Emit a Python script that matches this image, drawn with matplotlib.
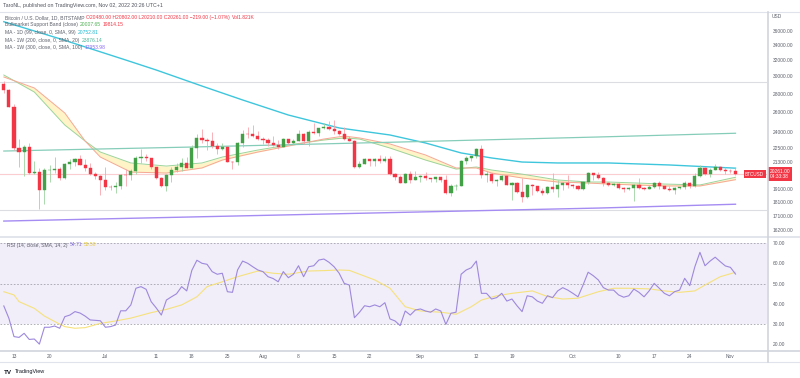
import numpy as np
import pandas as pd
import matplotlib
matplotlib.use('Agg')
import matplotlib.pyplot as plt
from matplotlib.lines import Line2D
from matplotlib.ticker import FixedLocator, FixedFormatter, NullLocator

plt.rcParams['font.family'] = ['Liberation Sans', 'DejaVu Sans']

W, H = 800, 378

GREEN = '#43a047'
RED = '#f23645'
GREEN_WICK = '#9fd3a1'
RED_WICK = '#f7a5ae'
AXIS_TXT = '#5d606b'
LINE_GRAY = '#e0e3eb'

# daily BTCUSD (Bitstamp) candles, 11 Jun - 02 Nov 2022
dates = pd.date_range('2022-06-11', '2022-11-02', freq='D')
first_open = 29080
close = [28400, 26580, 22480, 22130, 22580, 20390, 20460, 18980, 20560, 20560,
         20720, 19970, 21090, 21230, 21500, 21030, 20730, 20270, 20100, 19780,
         19270, 19240, 19300, 20220, 20180, 20550, 21640, 21720, 21590, 20850,
         19960, 19320, 20210, 20580, 20830, 21200, 20780, 22460, 23380, 23230,
         23160, 22690, 22450, 22580, 21310, 21250, 22950, 23850, 23790, 23640,
         23300, 23270, 22970, 22820, 22620, 23310, 22960, 23170, 23800, 23140,
         23950, 23930, 24400, 24440, 24300, 24090, 23850, 23340, 23190, 20830,
         21130, 21520, 21400, 21530, 21370, 21560, 20240, 20030, 19550, 20280,
         19800, 20050, 20130, 19950, 19830, 19990, 19800, 18790, 19290, 19320,
         21370, 21650, 21830, 22400, 20180, 20240, 19700, 19800, 20110, 19420,
         19540, 18880, 18490, 19400, 19290, 18930, 18800, 19220, 19080, 19410,
         19590, 19420, 19310, 19050, 19630, 20340, 20160, 19960, 19530, 19420,
         19450, 19130, 19060, 19150, 19380, 19180, 19070, 19260, 19550, 19330,
         19120, 19040, 19160, 19210, 19570, 19330, 20080, 20770, 20290, 20600,
         20820, 20630, 20490, 20480, 20261]
high = [29440, 28550, 26880, 23300, 22800, 22980, 21350, 20780, 20800, 21000,
        21700, 20850, 21200, 21520, 21580, 21850, 21500, 21180, 20420, 20150,
        20880, 19400, 19620, 20300, 20680, 20660, 21820, 22420, 21950, 21600,
        20860, 20030, 20250, 20880, 21200, 21580, 21680, 22740, 23780, 24270,
        23420, 24000, 22980, 23000, 22650, 21330, 23080, 24180, 24440, 24650,
        24140, 23480, 23450, 23620, 23200, 23430, 23330, 23370, 24220, 23900,
        24150, 24880, 24430, 24880, 25100, 25200, 24220, 24440, 23600, 23200,
        21350, 21650, 21520, 21660, 21880, 21800, 21820, 20350, 20150, 20380,
        20550, 20490, 20200, 20420, 19980, 20000, 20050, 20160, 19450, 19450,
        21440, 21790, 21820, 22500, 22770, 20530, 20340, 19900, 20180, 20100,
        19650, 19640, 19950, 19500, 19480, 19300, 19200, 19300, 20350, 19780,
        19640, 20150, 19480, 19400, 19700, 20470, 20360, 20440, 20050, 19620,
        19520, 19530, 19250, 19230, 19500, 19940, 19220, 19390, 19670, 19700,
        19350, 19340, 19250, 19250, 19690, 19600, 20380, 21000, 20850, 20740,
        21070, 20940, 20850, 20670, 20802]
low = [28100, 26560, 22300, 20820, 20070, 20250, 20240, 17620, 17950, 19620,
       20350, 19770, 19890, 20700, 20900, 20980, 20520, 20200, 19850, 18630,
       19000, 18990, 18790, 19050, 19300, 19780, 20300, 21200, 21350, 20700,
       19900, 19230, 18910, 19640, 20400, 20500, 20750, 20760, 21600, 23000,
       22350, 22500, 21950, 22300, 21250, 20720, 21050, 22600, 23450, 23540,
       23230, 22860, 22680, 22700, 22450, 22580, 22870, 22850, 23150, 22880,
       22700, 23850, 23600, 24290, 24150, 23800, 23700, 23200, 23130, 20790,
       20800, 21080, 20900, 20900, 21150, 21310, 20150, 19800, 19550, 19580,
       19560, 19800, 19620, 19750, 19660, 19600, 19640, 18680, 18550, 19000,
       19300, 21130, 21380, 21600, 19920, 19630, 19560, 19320, 19700, 19380,
       18250, 18780, 18150, 18410, 18630, 18860, 18630, 18680, 18850, 18470,
       19000, 19200, 19180, 19000, 19000, 19500, 19750, 19870, 19330, 19280,
       19320, 19070, 18880, 18980, 18200, 19080, 18980, 19070, 19160, 19100,
       19070, 18900, 18680, 19110, 19080, 19170, 19240, 20060, 20210, 20010,
       20560, 20510, 20250, 20330, 20210]

# overlays at a few days (offset from 11 Jun)
band_days = [0, 6, 12, 16, 19, 25, 32, 39, 43, 50, 56, 63, 67, 70, 76, 83, 89, 93, 96,
             102, 109, 115, 119, 130, 137, 144]
band_sma20w = [30170, 28180, 24680, 23140, 22140, 21190, 20930, 21190, 21700, 22320,
               22780, 23240, 23430, 23330, 22500, 21440, 20680, 20850, 20600, 20260,
               19790, 19630, 19630, 19470, 19400, 20008]
band_ema21w = [29930, 28640, 25900, 23140, 21700, 20430, 20350, 20770, 21440, 22140,
               22680, 23330, 23610, 23430, 22870, 21880, 20770, 20770, 20350, 19950,
               19630, 19550, 19470, 19320, 19320, 19814]
ma99_days = [0, 11, 24, 30, 39, 47, 56, 66, 76, 83, 90, 96, 102, 109, 119, 131, 144]
ma99 = [37370, 34900, 32040, 30780, 28860, 27290, 25690, 24390, 23710, 22960, 22060,
        21620, 21270, 21190, 21190, 21020, 20753]
ma200w_days = [0, 37, 78, 117, 144]
ma200w = [22230, 22590, 23050, 23520, 23876]
ma300w_days = [0, 117, 144]
ma300w = [16780, 17680, 17954]
range_levels = [29330, 17550]
last_price = 20261

# RSI(14) and its SMA(14)
rsi = [39.0, 32.9, 23.9, 23.5, 25.5, 22.5, 22.7, 20.2, 28.5, 28.5,
       29.1, 28.0, 33.7, 34.5, 36.2, 35.5, 34.0, 32.1, 31.9, 31.7,
       28.5, 28.8, 29.6, 36.6, 36.6, 39.5, 47.7, 48.5, 47.2, 41.1,
       38.0, 34.5, 41.9, 43.5, 45.0, 48.5, 46.4, 56.5, 61.5, 60.0,
       59.5, 55.9, 54.6, 55.1, 46.0, 45.7, 56.7, 61.1, 60.0, 58.3,
       56.7, 55.9, 53.4, 52.5, 50.9, 55.9, 52.9, 54.6, 58.8, 53.4,
       58.3, 58.8, 61.6, 62.1, 60.5, 58.3, 55.1, 50.1, 49.3, 33.2,
       35.9, 39.1, 38.6, 39.5, 38.6, 40.6, 32.6, 31.6, 29.3, 36.5,
       34.5, 37.0, 37.5, 36.5, 35.9, 37.5, 36.5, 29.9, 35.4, 35.9,
       54.6, 56.7, 57.8, 61.1, 45.2, 45.2, 42.4, 43.1, 45.2, 41.4,
       42.4, 39.1, 36.2, 44.0, 43.5, 41.4, 40.3, 44.0, 43.1, 46.4,
       48.0, 46.8, 45.2, 43.5, 49.3, 55.6, 53.9, 51.8, 48.0, 46.8,
       46.8, 44.4, 43.3, 44.0, 47.3, 45.7, 43.5, 46.4, 50.1, 47.7,
       45.2, 44.0, 46.0, 46.8, 52.6, 49.0, 58.3, 65.4, 58.8, 61.1,
       63.0, 60.8, 58.7, 58.0, 54.71]
rsi_ma_days = [0, 2, 3, 6, 8, 11, 12, 14, 16, 19, 22, 25, 29, 32, 35, 38, 40, 43, 46, 50,
               53, 56, 60, 63, 66, 68, 73, 76, 79, 82, 86, 89, 92, 94, 97, 100, 104, 107,
               110, 113, 117, 120, 123, 127, 130, 133, 136, 138, 141, 144]
rsi_ma = [46.0, 44.4, 41.1, 37.8, 34.0, 30.0, 28.8, 28.0, 28.3, 30.4, 31.6, 33.0, 35.7,
          37.3, 39.5, 43.5, 48.5, 50.9, 53.4, 56.2, 55.1, 54.6, 56.2, 56.4, 56.7, 56.5,
          51.8, 47.7, 38.6, 36.5, 35.9, 34.9, 38.6, 41.9, 44.0, 45.2, 46.4, 43.6, 42.4,
          42.8, 46.0, 47.7, 47.7, 47.4, 46.4, 45.7, 46.4, 49.3, 53.4, 55.58]

price_ticks = [36000, 34000, 32000, 30000, 28000, 26000, 24000, 22500, 21300,
               19100, 18100, 17100, 16200]
rsi_ticks = [70, 60, 50, 40, 30, 20]
tick_dates = ['2022-06-13', '2022-06-20', '2022-07-01', '2022-07-11', '2022-07-18',
              '2022-07-25', '2022-08-01', '2022-08-08', '2022-08-15', '2022-08-22',
              '2022-09-01', '2022-09-12', '2022-09-19', '2022-10-01', '2022-10-10',
              '2022-10-17', '2022-10-24', '2022-11-01']
tick_labels = ['13', '20', 'Jul', '11', '18', '25', 'Aug', '8', '15', '22',
               'Sep', '12', '19', 'Oct', '10', '17', '24', 'Nov']


def day_dates(days):
    return dates[0] + pd.to_timedelta(days, unit='D')


def px_box(x0, y0, x1, y1):
    """pixel box (from top-left) -> figure rect"""
    return [x0 / W, 1 - y1 / H, (x1 - x0) / W, (y1 - y0) / H]


def fig_line(fig, x0, y0, x1, y1, color=LINE_GRAY, lw=0.8):
    fig.add_artist(Line2D([x0 / W, x1 / W], [1 - y0 / H, 1 - y1 / H],
                          transform=fig.transFigure, color=color, lw=lw))


def chain_text(fig, x, y, parts, size):
    # several coloured pieces on one line
    renderer = fig.canvas.get_renderer()
    for s, c in parts:
        t = fig.text(x / W, 1 - y / H, s, color=c, fontsize=size, va='center', ha='left')
        x = t.get_window_extent(renderer).x1 + 2


fig = plt.figure(figsize=(W / 100, H / 100), dpi=100)
ax = fig.add_axes(px_box(0, 12, 767, 237))
ax2 = fig.add_axes(px_box(0, 238, 767, 350), sharex=ax)
for a in (ax, ax2):
    for s in a.spines.values():
        s.set_visible(False)
    a.set_facecolor('white')

# ---- price pane
opn = np.array([first_open] + close[:-1])  # 24/7 market: open = previous close
cls = np.array(close)
up = cls >= opn
ax.vlines(dates, low, high, colors=np.where(up, GREEN_WICK, RED_WICK), lw=0.6, zorder=3)
ax.bar(dates, np.abs(cls - opn), bottom=np.minimum(opn, cls), width=0.62,
       color=np.where(up, GREEN, RED), edgecolor=np.where(up, GREEN, RED),
       linewidth=0.3, zorder=4)

bd = day_dates(band_days)
ax.fill_between(bd, band_sma20w, band_ema21w, color='#fff3bf', alpha=0.85, lw=0, zorder=1)
ax.plot(bd, band_sma20w, color='#9cd49c', lw=0.7, zorder=2)
ax.plot(bd, band_ema21w, color='#f5a896', lw=0.7, zorder=2)
ax.plot(day_dates(ma99_days), ma99, color='#3ec6dc', lw=1.0, zorder=2)
ax.plot(day_dates(ma200w_days), ma200w, color='#86cdb9', lw=0.9, zorder=2)
ax.plot(day_dates(ma300w_days), ma300w, color='#a58cf2', lw=1.0, zorder=2)
for lv in range_levels:
    ax.axhline(lv, color='#dcdde2', lw=0.8, zorder=0)
ax.axhline(last_price, color=RED, alpha=0.25, lw=0.8, zorder=1)

ax.set_yscale('log')
ax.set_ylim(15740, 38855)
ax.set_xlim(dates[0] - pd.Timedelta(hours=18), dates[0] + pd.Timedelta(days=150.2))
ax.yaxis.tick_right()
ax.yaxis.set_major_locator(FixedLocator(price_ticks))
ax.yaxis.set_major_formatter(FixedFormatter([f'{v:.2f}' for v in price_ticks]))
ax.yaxis.set_minor_locator(NullLocator())
ax.tick_params(axis='y', length=0, pad=4, labelsize=3.5, labelcolor=AXIS_TXT)
ax.tick_params(axis='x', length=0, labelbottom=False)

ax.annotate(f'{last_price:.2f}\n04:33:38', xy=(1, last_price), xycoords=('axes fraction', 'data'),
            xytext=(2.2, 0), textcoords='offset points', ha='left', va='center',
            fontsize=3.5, color='white', linespacing=1.1, annotation_clip=False,
            bbox=dict(boxstyle='square,pad=0.35', fc=RED, ec='none'))
ax.annotate('BTCUSD', xy=(1, last_price), xycoords=('axes fraction', 'data'),
            xytext=(-2, 0), textcoords='offset points', ha='right', va='center',
            fontsize=3.3, color='white', annotation_clip=False,
            bbox=dict(boxstyle='square,pad=0.3', fc=RED, ec='none'))

# ---- RSI pane
ax2.axhspan(30, 70, color='#f1edf9', lw=0, zorder=0)
for lv in (70, 50, 30):
    ax2.axhline(lv, color='#a3a3ad', lw=0.6, ls=(0, (2, 2)), zorder=1)
ax2.plot(dates, rsi, color='#9d89dc', lw=0.8, zorder=3)
ax2.plot(day_dates(rsi_ma_days), rsi_ma, color='#f6e27c', lw=0.8, zorder=2)
ax2.set_ylim(17.29, 72.46)
ax2.yaxis.tick_right()
ax2.yaxis.set_major_locator(FixedLocator(rsi_ticks))
ax2.yaxis.set_major_formatter(FixedFormatter([f'{v:.2f}' for v in rsi_ticks]))
ax2.tick_params(axis='y', length=0, pad=4, labelsize=3.5, labelcolor=AXIS_TXT)
ax2.set_xticks(pd.to_datetime(tick_dates))
ax2.set_xticklabels(tick_labels)
ax2.tick_params(axis='x', length=0, pad=3, labelsize=3.5, labelcolor=AXIS_TXT)

# ---- frame lines
fig_line(fig, 0, 12, W, 12)
fig_line(fig, 0, 237.5, W, 237.5, lw=1.3)
fig_line(fig, 0, 350.5, W, 350.5, color='#d1d4dc', lw=1.2)
fig_line(fig, 0, 362, W, 362)
fig_line(fig, 767.5, 12, 767.5, 362, color='#d1d4dc', lw=1.2)

# ---- texts
fig.text(3 / W, 1 - 6 / H, 'TaroNL, published on TradingView.com, Nov 02, 2022 20:26 UTC+1',
         fontsize=3.8, color='#50535e', va='center')
fig.text(772 / W, 1 - 17 / H, 'USD', fontsize=3.5, color=AXIS_TXT, va='center')
leg = 3.65
chain_text(fig, 5, 17.3, [('Bitcoin / U.S. Dollar, 1D, BITSTAMP', AXIS_TXT),
                          ('O20480.00 H20802.00 L20210.00 C20261.00 \u2212219.00 (\u22121.07%)', RED),
                          ('Vol1.821K', RED)], leg)
chain_text(fig, 5, 24.7, [('Bullmarket Support Band (close)', AXIS_TXT),
                          ('20007.65', '#4caf50'), ('19814.15', RED)], leg)
chain_text(fig, 5, 32.7, [('MA - 1D (99, close, 0, SMA, 99)', AXIS_TXT), ('20752.81', '#22b8d0')], leg)
chain_text(fig, 5, 40.3, [('MA - 1W (200, close, 0, SMA, 20)', AXIS_TXT), ('23876.14', '#4db89a')], leg)
chain_text(fig, 5, 47.7, [('MA - 1W (300, close, 0, SMA, 100)', AXIS_TXT), ('17953.98', '#8a6cf0')], leg)
chain_text(fig, 7, 245, [('RSI (14, close, SMA, 14, 2)', AXIS_TXT),
                         ('54.71', '#8c78d8'), ('55.58', '#e9cf4a')], leg)

fig.text(4 / W, 1 - 372 / H, 'TV', fontsize=4.5, fontweight='bold', color='#131722', va='center')
fig.text(15 / W, 1 - 372 / H, 'TradingView', fontsize=4, color='#131722', va='center')

fig.savefig('out.png', dpi=100)
